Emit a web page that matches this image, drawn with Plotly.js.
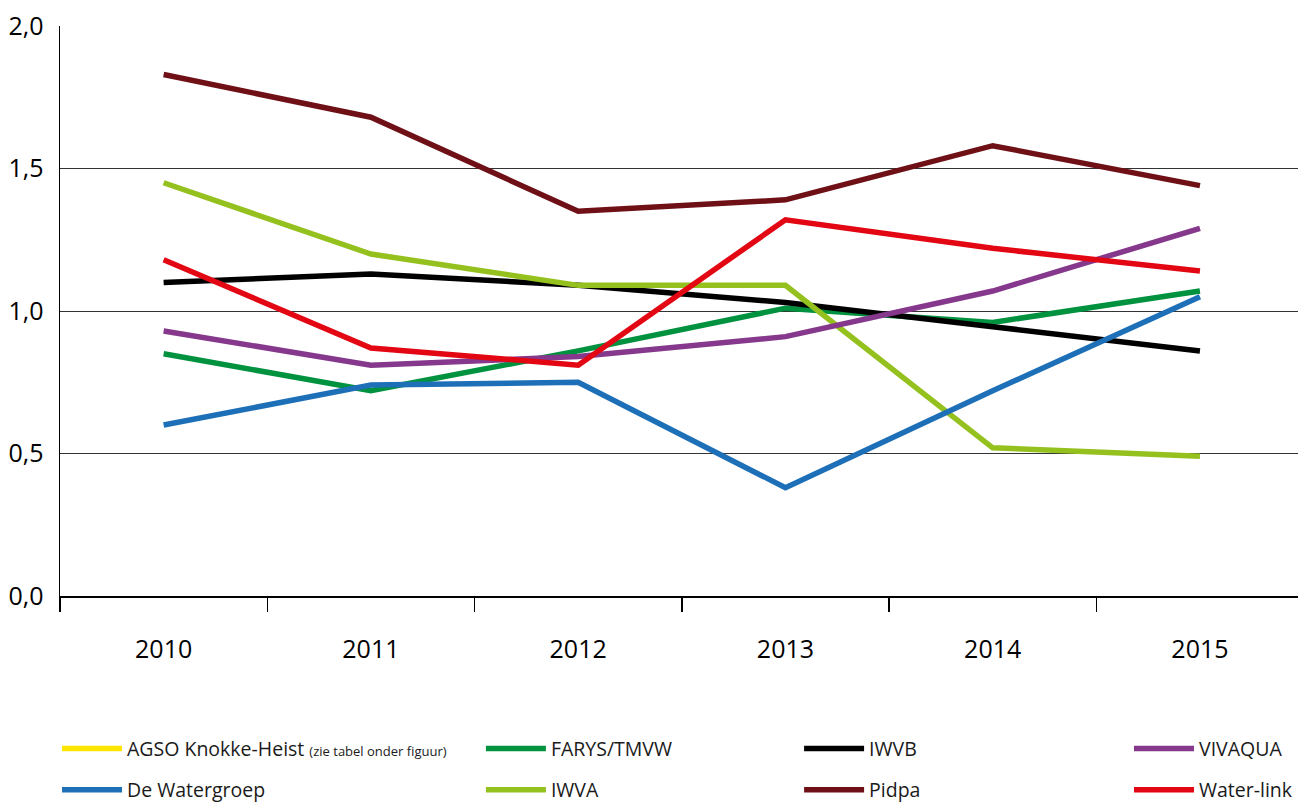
<!DOCTYPE html>
<html>
<head>
<meta charset="utf-8">
<script src="https://cdn.plot.ly/plotly-3.0.1.min.js"></script>
<style>html,body{margin:0;padding:0;background:#fff;}#chart{width:1298px;height:805px;}</style>
</head>
<body>
<div id="chart"></div>
<script>
const years = ['2010', '2011', '2012', '2013', '2014', '2015'];
const yTicks = [0, 0.5, 1.0, 1.5, 2.0];

const agso = [null, null, null, null, null, null];
const deWatergroep = [0.60, 0.74, 0.75, 0.38, 0.72, 1.05];
const farys = [0.85, 0.72, 0.86, 1.01, 0.96, 1.07];
const iwva = [1.45, 1.20, 1.09, 1.09, 0.52, 0.49];
const iwvb = [1.10, 1.13, 1.09, 1.03, 0.945, 0.86];
const pidpa = [1.83, 1.68, 1.35, 1.39, 1.58, 1.44];
const vivaqua = [0.93, 0.81, 0.84, 0.91, 1.07, 1.29];
const waterLink = [1.18, 0.87, 0.81, 1.32, 1.22, 1.14];

function tr(name, y, color, legend, rank) {
  return {
    type: 'scatter', mode: 'lines', x: years, y: y, name: name,
    line: {color: color, width: 5.5},
    legend: legend, legendrank: rank, legendgroup: name,
    hoverinfo: 'skip'
  };
}

const data = [
  tr('AGSO Knokke-Heist <span style="font-size:13px">(zie tabel onder figuur)</span>', agso, '#FFE500', 'legend', 1),
  tr('FARYS/TMVW', farys, '#00923F', 'legend2', 1),
  tr('IWVB', iwvb, '#000000', 'legend3', 1),
  tr('IWVA', iwva, '#95C11F', 'legend2', 2),
  tr('VIVAQUA', vivaqua, '#85388C', 'legend4', 1),
  tr('De Watergroep', deWatergroep, '#1D70B7', 'legend', 2),
  tr('Pidpa', pidpa, '#6F1016', 'legend3', 2),
  tr('Water-link', waterLink, '#E30613', 'legend4', 2)
];

const legFont = {family: 'Open Sans, sans-serif', size: 19.5, color: '#1a1a1a'};
function leg(x) {
  return {x: x, y: 0.094, yref: 'container', xanchor: 'left', yanchor: 'top', orientation: 'v',
    font: legFont, bgcolor: 'rgba(0,0,0,0)', tracegroupgap: 13, itemwidth: 60};
}

const layout = {
  width: 1298, height: 805,
  margin: {l: 60, r: 0, t: 26, b: 209},
  paper_bgcolor: '#ffffff', plot_bgcolor: '#ffffff',
  separators: ',.',
  font: {family: 'Open Sans, sans-serif', color: '#000'},
  xaxis: {
    type: 'category', range: [-0.5, 5.473],
    tickson: 'boundaries', ticks: 'outside', ticklen: 14, tickwidth: 1.5, tickcolor: '#000',
    showline: true, linecolor: '#000', linewidth: 1.5,
    showgrid: false, zeroline: false,
    tickfont: {size: 25, color: '#000'}, ticklabelstandoff: 30,
    fixedrange: true, automargin: false
  },
  yaxis: {
    range: [0, 2.0], tickvals: yTicks, tickformat: '.1f',
    showline: true, linecolor: '#000', linewidth: 1.5,
    showgrid: true, gridcolor: '#333', gridwidth: 1,
    zeroline: false, ticks: '',
    tickfont: {size: 25, color: '#000'}, ticklabelstandoff: 10,
    fixedrange: true, automargin: false
  },
  showlegend: true,
  legend: leg(-0.0024),
  legend2: leg(0.340),
  legend3: leg(0.597),
  legend4: leg(0.866)
};

Plotly.newPlot('chart', data, layout, {staticPlot: true, displayModeBar: false});
</script>
</body>
</html>
